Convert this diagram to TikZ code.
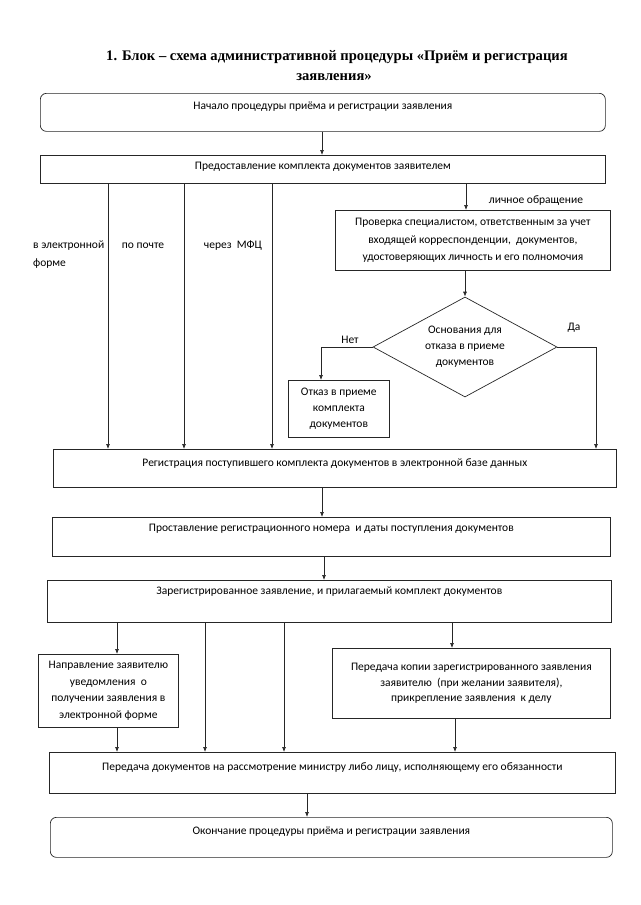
\documentclass[tikz,border=0pt]{standalone}
\usepackage{fontspec}
\setmainfont{Carlito}
\newfontfamily\titlefont{Liberation Serif}
\usetikzlibrary{arrows.meta,shapes.geometric}
\begin{document}
\begin{tikzpicture}[x=1pt,y=-1pt,
  every node/.style={font=\fontsize{11.5}{17.5}\selectfont},
  box/.style={draw=black!85, line width=0.7pt, inner sep=0pt, anchor=north west},
  tb/.style 2 args={text height=#1, text depth=#2},
  mb/.style={align=center},
  arr/.style={draw=black!85, line width=0.7pt, -{Latex[length=5pt,width=4pt]}},
  lbl/.style={inner sep=0pt}
]
\useasboundingbox (0,0) rectangle (640,905);

% title
\node[lbl, font=\titlefont\bfseries\fontsize{14.6}{20}\selectfont] (t1) at (337,57) {1. Блок – схема административной процедуры «Приём и регистрация};
\node[lbl, font=\titlefont\bfseries\fontsize{14.6}{20}\selectfont] (t2) at (334,77) {заявления»};

% column coordinates
\coordinate (c0) at (322,0);
\coordinate (c1) at (108,0);
\coordinate (c2) at (184,0);
\coordinate (c3) at (272,0);
\coordinate (c4) at (466,0);
\coordinate (c5) at (321,0);
\coordinate (c6) at (596,0);
\coordinate (c7) at (324,0);
\coordinate (d1) at (117,0);
\coordinate (d2) at (205,0);
\coordinate (d3) at (284,0);
\coordinate (d4) at (452,0);
\coordinate (d5) at (455,0);
\coordinate (d6) at (307,0);

% boxes
\node[box, rounded corners=6pt, minimum width=565pt, tb={16.5pt}{21.5pt}] (b1) at (40,93)
  {Начало процедуры приёма и регистрации заявления};
\node[box, minimum width=565pt, tb={14.5pt}{13.5pt}] (b2) at (40,155)
  {Предоставление комплекта документов заявителем};
\node[box, mb, minimum width=275pt, minimum height=60pt] (chk) at (335,210)
  {Проверка специалистом, ответственным за учет\\входящей корреспонденции,\ \ документов,\\удостоверяющих личность и его полномочия};
\node[draw=black!85, line width=0.7pt, diamond, aspect=1.84, inner sep=0pt,
  minimum width=184pt, minimum height=100pt, align=center,
  font=\fontsize{11.5}{16}\selectfont] (dia) at (465,347)
  {Основания для\\отказа в приеме\\документов};
\node[box, mb, minimum width=101pt, minimum height=57pt, font=\fontsize{11.5}{16}\selectfont] (otk) at (288,380)
  {Отказ в приеме\\комплекта\\документов};
\node[box, minimum width=563pt, tb={17.5pt}{20.5pt}] (reg) at (53,449)
  {Регистрация поступившего комплекта документов в электронной базе данных};
\node[box, minimum width=558pt, tb={14.5pt}{24.5pt}] (pro) at (52,517)
  {Проставление регистрационного номера\ \ и даты поступления документов};
\node[box, minimum width=564pt, tb={14.5pt}{27.5pt}] (zar) at (47,580)
  {Зарегистрированное заявление, и прилагаемый комплект документов};
\node[box, mb, minimum width=140pt, minimum height=73pt, font=\fontsize{11.5}{16.5}\selectfont] (nap) at (38,654)
  {Направление заявителю\\уведомления\ \ о\\получении заявления в\\электронной форме};
\node[box, mb, minimum width=278pt, minimum height=70pt, font=\fontsize{11.5}{15.5}\selectfont] (kop) at (332,648)
  {Передача копии зарегистрированного заявления\\заявителю\ \ (при желании заявителя),\\прикрепление заявления\ \ к делу};
\node[box, minimum width=566pt, tb={18.5pt}{22.5pt}] (per) at (49,752)
  {Передача документов на рассмотрение министру либо лицу, исполняющему его обязанности};
\node[box, rounded corners=6pt, minimum width=562pt, tb={17.5pt}{22.5pt}] (end) at (50,817)
  {Окончание процедуры приёма и регистрации заявления};

% labels
\node[lbl, anchor=west] (l1) at (33,246) {в электронной};
\node[lbl, anchor=west] (l1b) at (33,264) {форме};
\node[lbl] (l2) at (143,246) {по почте};
\node[lbl] (l3) at (233,246) {через\ \ МФЦ};
\node[lbl] (l4) at (536,201) {личное обращение};
\node[lbl] (l5) at (350,340) {Нет};
\node[lbl] (l6) at (574,328) {Да};

% connectors
\draw[arr] (b1.south -| c0) -- (b2.north -| c0);
\draw[arr] (b2.south -| c1) -- (reg.north -| c1);
\draw[arr] (b2.south -| c2) -- (reg.north -| c2);
\draw[arr] (b2.south -| c3) -- (reg.north -| c3);
\draw[arr] (b2.south -| c4) -- (chk.north -| c4);
\draw[arr] (chk.south -| dia.north) -- (dia.north);
\draw[arr] (dia.west) -| (otk.north -| c5);
\draw[arr] (dia.east) -| (reg.north -| c6);
\draw[arr] (reg.south -| c0) -- (pro.north -| c0);
\draw[arr] (pro.south -| c7) -- (zar.north -| c7);
\draw[arr] (zar.south -| d1) -- (nap.north -| d1);
\draw[arr] (zar.south -| d2) -- (per.north -| d2);
\draw[arr] (zar.south -| d3) -- (per.north -| d3);
\draw[arr] (zar.south -| d4) -- (kop.north -| d4);
\draw[arr] (nap.south -| d1) -- (per.north -| d1);
\draw[arr] (kop.south -| d5) -- (per.north -| d5);
\draw[arr] (per.south -| d6) -- (end.north -| d6);
\end{tikzpicture}
\end{document}
